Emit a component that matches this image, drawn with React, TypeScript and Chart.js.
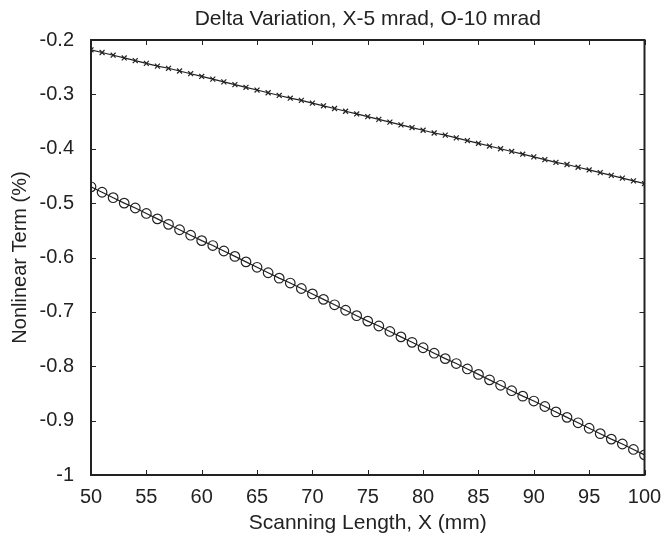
import React, { useEffect, useRef } from "react";
import { Chart, registerables } from "chart.js";

Chart.register(...registerables);

const xValues: number[] = [
  50, 51, 52, 53, 54, 55, 56, 57, 58, 59, 60, 61, 62, 63, 64, 65, 66, 67, 68, 69,
  70, 71, 72, 73, 74, 75, 76, 77, 78, 79, 80, 81, 82, 83, 84, 85, 86, 87, 88, 89,
  90, 91, 92, 93, 94, 95, 96, 97, 98, 99, 100,
];

const series5mrad: number[] = [
  -0.218, -0.223, -0.228, -0.233, -0.238, -0.243, -0.248, -0.252, -0.257, -0.262,
  -0.267, -0.272, -0.277, -0.282, -0.287, -0.292, -0.297, -0.302, -0.307, -0.311,
  -0.316, -0.321, -0.326, -0.331, -0.336, -0.341, -0.346, -0.351, -0.356, -0.361,
  -0.366, -0.371, -0.375, -0.38, -0.385, -0.39, -0.395, -0.4, -0.405, -0.41,
  -0.415, -0.42, -0.425, -0.429, -0.434, -0.439, -0.444, -0.449, -0.454, -0.459,
  -0.464,
];

const series10mrad: number[] = [
  -0.47, -0.48, -0.49, -0.5, -0.509, -0.519, -0.529, -0.539, -0.549, -0.559,
  -0.569, -0.578, -0.588, -0.598, -0.608, -0.618, -0.628, -0.638, -0.647, -0.657,
  -0.667, -0.677, -0.687, -0.697, -0.707, -0.717, -0.726, -0.736, -0.746, -0.756,
  -0.766, -0.776, -0.786, -0.795, -0.805, -0.815, -0.825, -0.835, -0.845, -0.855,
  -0.864, -0.874, -0.884, -0.894, -0.904, -0.914, -0.924, -0.934, -0.943, -0.953,
  -0.963,
];

const xTicks: number[] = [50, 55, 60, 65, 70, 75, 80, 85, 90, 95, 100];
const yTicks: number[] = [-1, -0.9, -0.8, -0.7, -0.6, -0.5, -0.4, -0.3, -0.2];

const titleText = "Delta Variation, X-5 mrad, O-10 mrad";
const xTitle = "Scanning Length, X (mm)";
const yTitle = "Nonlinear Term (%)";

const INK = "#222222";
const FONT = "'Liberation Sans', Arial, sans-serif";

const boxPlugin = {
  id: "matlabBox",
  afterDraw(chart: any) {
    const { ctx, chartArea: a, scales } = chart;
    const len = 5;
    ctx.save();
    ctx.strokeStyle = INK;
    ctx.lineWidth = 1;
    ctx.beginPath();
    for (const v of xTicks) {
      const px = Math.round(scales.x.getPixelForValue(v)) + 0.5;
      ctx.moveTo(px, a.bottom);
      ctx.lineTo(px, a.bottom - len);
      ctx.moveTo(px, a.top);
      ctx.lineTo(px, a.top + len);
    }
    for (const v of yTicks) {
      const py = Math.round(scales.y.getPixelForValue(v)) + 0.5;
      ctx.moveTo(a.left, py);
      ctx.lineTo(a.left + len, py);
      ctx.moveTo(a.right, py);
      ctx.lineTo(a.right - len, py);
    }
    ctx.stroke();
    ctx.lineWidth = 2;
    ctx.strokeRect(a.left, a.top, a.right - a.left, a.bottom - a.top);
    // title centred over the plot area
    ctx.fillStyle = INK;
    ctx.font = `21px ${FONT}`;
    ctx.textAlign = "center";
    ctx.textBaseline = "middle";
    ctx.fillText(titleText, (a.left + a.right) / 2, 19);
    ctx.restore();
  },
};

export default function App() {
  const ref = useRef<HTMLCanvasElement | null>(null);

  useEffect(() => {
    if (!ref.current) return;
    Chart.defaults.font.family = FONT;
    Chart.defaults.color = INK;
    const chart = new Chart(ref.current, {
      type: "line",
      data: {
        datasets: [
          {
            label: "X-5 mrad",
            data: xValues.map((x, i) => ({ x, y: series5mrad[i] })),
            borderColor: INK,
            borderWidth: 1.2,
            pointStyle: "crossRot",
            pointRadius: 3.5,
            pointBorderWidth: 1.2,
            pointBorderColor: INK,
            pointBackgroundColor: "transparent",
            fill: false,
            tension: 0,
          },
          {
            label: "O-10 mrad",
            data: xValues.map((x, i) => ({ x, y: series10mrad[i] })),
            borderColor: INK,
            borderWidth: 1.2,
            pointStyle: "circle",
            pointRadius: 4.8,
            pointBorderWidth: 1.2,
            pointBorderColor: INK,
            pointBackgroundColor: "transparent",
            fill: false,
            tension: 0,
          },
        ],
      },
      options: {
        responsive: false,
        animation: false,
        layout: { padding: { left: 0, right: 19.5, top: 40, bottom: 0 } },
        plugins: {
          legend: { display: false },
          tooltip: { enabled: false },
          title: { display: false },
        },
        scales: {
          x: {
            type: "linear",
            min: 50,
            max: 100,
            afterBuildTicks: (s: any) => {
              s.ticks = xTicks.map((v) => ({ value: v }));
            },
            afterFit: (s: any) => {
              s.height = 61;
              s.paddingRight = 0;
              s.paddingLeft = 0;
            },
            grid: { display: false },
            border: { display: false },
            ticks: {
              font: { size: 20 },
              color: INK,
              padding: 2,
              maxRotation: 0,
              callback: (v: any) => String(v),
            },
            title: {
              display: true,
              text: xTitle,
              font: { size: 21 },
              color: INK,
              padding: { top: 0, bottom: 0 },
            },
          },
          y: {
            type: "linear",
            min: -1,
            max: -0.2,
            afterBuildTicks: (s: any) => {
              s.ticks = yTicks.map((v) => ({ value: v }));
            },
            afterFit: (s: any) => {
              s.width = 91;
              s.paddingTop = 0;
              s.paddingBottom = 0;
            },
            grid: { display: false },
            border: { display: false },
            ticks: {
              font: { size: 20 },
              color: INK,
              padding: 9,
              callback: (v: any) => String(Number(Number(v).toFixed(1))),
            },
            title: {
              display: true,
              text: yTitle,
              font: { size: 20 },
              color: INK,
              padding: { top: 8, bottom: 0 },
            },
          },
        },
      },
      plugins: [boxPlugin],
    });
    return () => chart.destroy();
  }, []);

  return (
    <div style={{ position: "fixed", left: 0, top: 0, width: 664, height: 536, background: "#fff" }}>
      <canvas ref={ref} width={664} height={536} />
    </div>
  );
}
